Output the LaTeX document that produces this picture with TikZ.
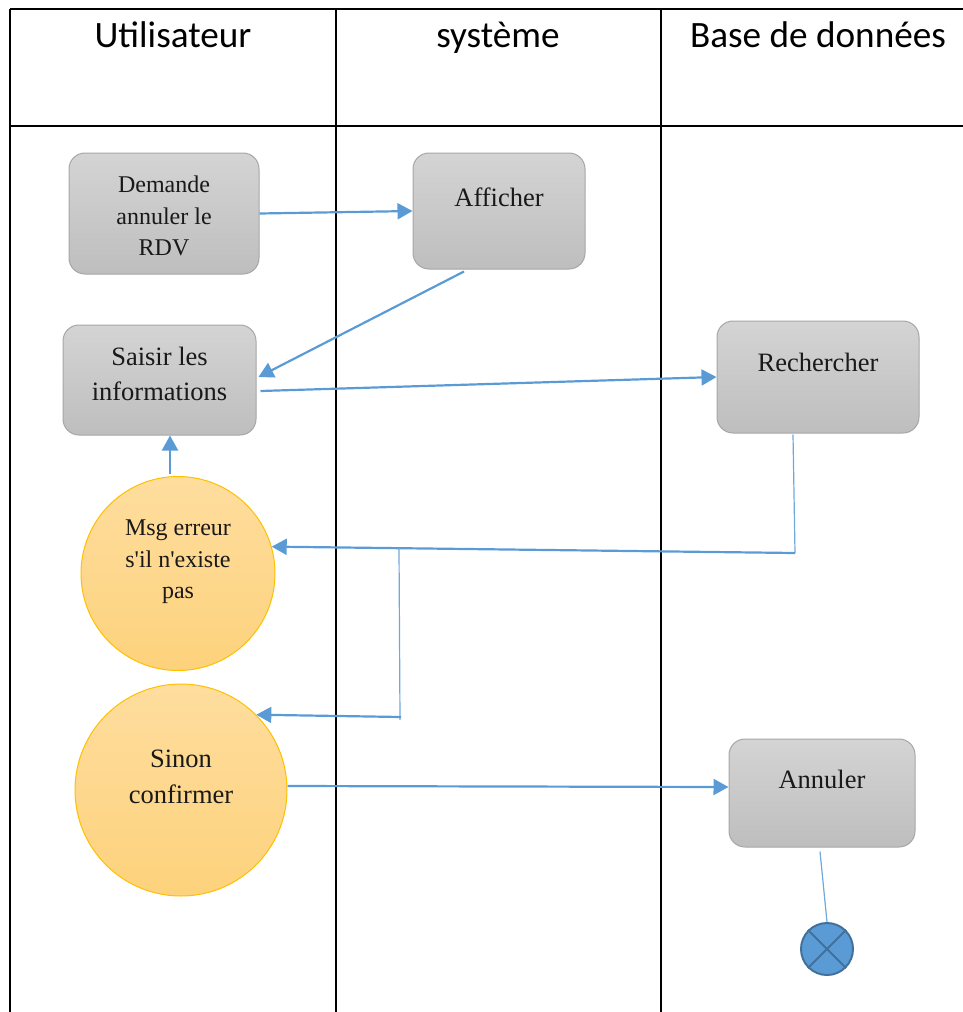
\documentclass[tikz,border=0pt]{standalone}
\usepackage{fontspec}
\setmainfont{Liberation Serif}
\newfontfamily\headfont{Carlito}
\usetikzlibrary{arrows.meta,calc}
\definecolor{flow}{HTML}{5B9BD5}
\definecolor{flowthin}{HTML}{6FA8DC}
\definecolor{boxedge}{HTML}{A6A6A6}
\definecolor{boxtop}{HTML}{D4D4D4}
\definecolor{boxbot}{HTML}{BEBEBE}
\definecolor{circtop}{HTML}{FEDD9E}
\definecolor{circbot}{HTML}{FDD27C}
\definecolor{circedge}{HTML}{FFC000}
\definecolor{endedge}{HTML}{41719C}
\tikzset{
  grid/.style={line width=2pt, black},
  lanehead/.style={anchor=base, font=\headfont\fontsize{37.2}{42}\selectfont},
  actbox/.style={rectangle, rounded corners=16pt, draw=boxedge, line width=1pt,
    top color=boxtop, bottom color=boxbot},
  decision/.style={circle, draw=circedge, line width=1pt,
    top color=circtop, bottom color=circbot, inner sep=0pt},
  txtsmall/.style={align=center, text=black!90, font=\fontsize{24}{31.5}\selectfont},
  txtbig/.style={align=center, text=black!90, font=\fontsize{26.5}{35.5}\selectfont},
  arr/.style={draw=flow, line width=2.2pt, -{Triangle[length=15pt,width=16pt]}},
  thinline/.style={draw=flowthin, line width=1.2pt},
  endnode/.style={circle, draw=endedge, fill=flow, line width=2pt,
    minimum size=52pt, inner sep=0pt},
}
\begin{document}
\begin{tikzpicture}[x=1pt,y=-1pt]
\useasboundingbox (0,0) rectangle (963,1012);

% swimlane table
\draw[grid] (10,9) -- (963,9);
\draw[grid] (10,126) -- (963,126);
\draw[grid] (10,9) -- (10,1012);
\draw[grid] (336,9) -- (336,1012);
\draw[grid] (661,9) -- (661,1012);

\node[lanehead] (h-user) at (173,47) {Utilisateur};
\node[lanehead] (h-sys) at (498,47) {système};
\node[lanehead] (h-db) at (818,47) {Base de données};

% activities
\node[actbox, minimum width=190pt, minimum height=121pt] (dem) at (164,213.5) {};
\node[txtsmall] (t-dem) at (164,216) {Demande\\annuler le\\RDV};

\node[actbox, minimum width=172pt, minimum height=116pt] (aff) at (499,211) {};
\node[txtbig] (t-aff) at (499,197) {Afficher};

\node[actbox, minimum width=193pt, minimum height=110pt] (sai) at (159.5,380) {};
\node[txtbig] (t-sai) at (159.5,374) {Saisir les\\informations};

\node[actbox, minimum width=202pt, minimum height=112pt] (rech) at (818,377) {};
\node[txtbig] (t-rech) at (818,362) {Rechercher};

\node[actbox, minimum width=186pt, minimum height=108pt] (ann) at (822,793) {};
\node[txtbig] (t-ann) at (822,779) {Annuler};

% decisions
\node[decision, minimum size=194pt] (msg) at (178,573.5) {};
\node[txtsmall] (t-msg) at (178,562)
  {Msg erreur\\s\textquotesingle il n\textquotesingle existe\\pas};

\node[decision, minimum size=212pt] (sin) at (181,790) {};
\node[txtbig] (t-sin) at (181,777) {Sinon\\confirmer};

% final node
\node[endnode] (fin) at (827,949) {};
\draw[endedge, line width=2pt] (fin.45) -- (fin.225) (fin.135) -- (fin.315);

% flows
\draw[arr] (dem.east) -- (aff.west);
\draw[arr] ($(aff.south)+(-35,2)$) -- ($(sai.east)+(2,-3)$);
\draw[arr] ($(sai.east)+(4,11)$) -- (rech.west);
\draw[arr] ($(msg.north)+(-8,-2)$) -- ($(sai.south)+(10.5,0)$);

\coordinate (j1) at (795,553);
\draw[thinline] ($(rech.south)+(-25,1)$) -- (j1);
\draw[arr] (j1) -- (msg.16);

\coordinate (j2) at (399,548);
\coordinate (j3) at (400,720);
\draw[thinline] (j2) -- (j3);
\draw[arr] ($(j3)+(1,-3)$) -- (sin.45);

\draw[arr] ($(sin.east)+(0,-4)$) -- ($(ann.west)+(0,-6)$);
\draw[thinline] ($(ann.south)+(-2,4)$) -- (fin.north);
\end{tikzpicture}
\end{document}
